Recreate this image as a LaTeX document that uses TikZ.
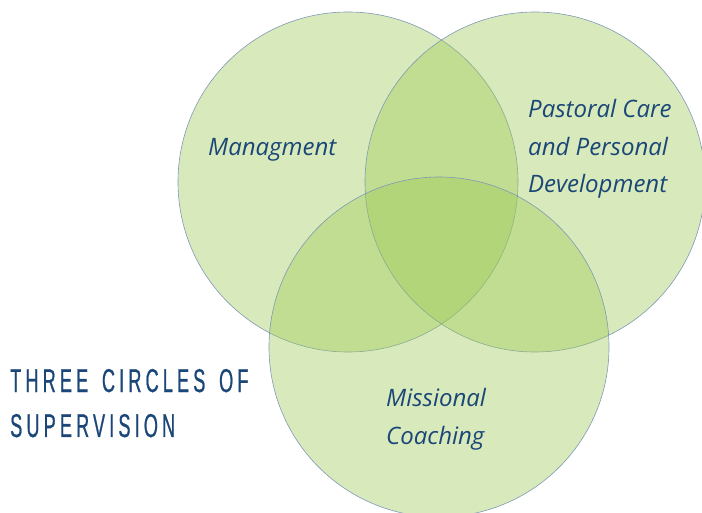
\documentclass[tikz,border=0pt]{standalone}
\usepackage{fontspec}
\setmainfont{Open Sans}
\newfontfamily\headfont[FakeStretch=0.55,FakeBold=0.6,LetterSpace=12.5,WordSpace=1.5]{Liberation Sans}
\usetikzlibrary{positioning}
\definecolor{leafgreen}{RGB}{157,202,85}
\definecolor{rimblue}{RGB}{128,152,182}
\definecolor{inkblue}{RGB}{26,70,120}
\newcommand{\ringsize}{340pt}

\begin{document}
\begin{tikzpicture}[x=1pt,y=1pt,
    ring/.style={draw=rimblue, line width=.6pt, fill=leafgreen, fill opacity=.4,
                 circle, minimum size=\ringsize, inner sep=0pt},
    label/.style={text=inkblue, font=\fontsize{24}{37.5}\selectfont\itshape,
                  align=left, inner sep=0pt, anchor=base west},
    heading/.style={text=inkblue, font=\headfont\fontsize{33}{45}\selectfont,
                    align=left, inner sep=0pt, anchor=base west}]

        \useasboundingbox (0,0) rectangle (702,512);

        % the three circles
        \node (mgmt) at (348,330) [ring] {};
        \node (care) at (535,330) [ring] {};
        \node (coach) at (439,165) [ring] {};

        % circle labels (base = last line)
        \node (mgmtlabel) at (208,356) [label] {Managment};
        \node (carelabel) at (528,319) [label] {Pastoral Care\\and Personal\\Development};
        \node (coachlabel) at (386,68) [label] {Missional\\Coaching};

        \node (title) at (10,75) [heading] {THREE CIRCLES OF\\SUPERVISION};

\end{tikzpicture}
\end{document}
